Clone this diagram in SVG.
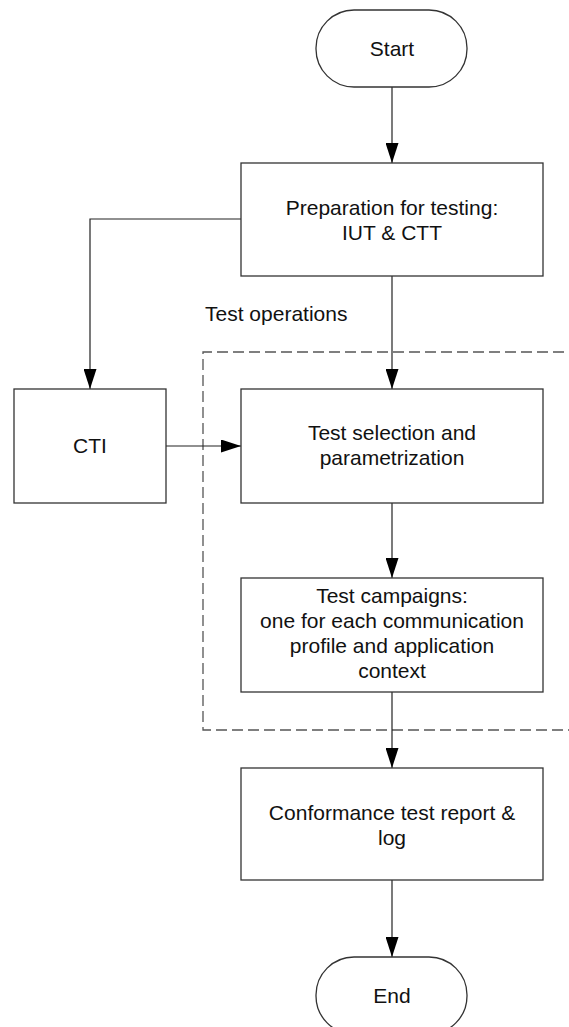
<svg xmlns="http://www.w3.org/2000/svg" width="569" height="1027" viewBox="0 0 569 1027">
<style>
.box{fill:#fff;stroke:#333;stroke-width:1.3}
.t{font-family:"Liberation Sans",Arial,sans-serif;font-size:21px;fill:#111;text-anchor:middle}
.tl{font-family:"Liberation Sans",Arial,sans-serif;font-size:21px;fill:#111}
.c{fill:none;stroke:#222;stroke-width:1.2}
.dash{fill:none;stroke:#555;stroke-width:1.3;stroke-dasharray:11,5}
</style>
<defs>
<marker id="ah" markerWidth="20" markerHeight="13" refX="20" refY="6.5" orient="auto" markerUnits="userSpaceOnUse">
<path d="M0,0 L20,6.5 L0,13 Z" fill="#000"/>
</marker>
</defs>
<rect width="569" height="1027" fill="#fff"/>
<g id="test-operations">
<path class="dash" d="M580,352 H203 V730 H580"/>
<text class="tl" x="205" y="321">Test operations</text>
</g>
<g id="connectors">
<path class="c" d="M392,87 V163" marker-end="url(#ah)"/>
<path class="c" d="M241,219 H90 V389" marker-end="url(#ah)"/>
<path class="c" d="M392,276 V389" marker-end="url(#ah)"/>
<path class="c" d="M166,446 H241" marker-end="url(#ah)"/>
<path class="c" d="M392,503 V578" marker-end="url(#ah)"/>
<path class="c" d="M392,692 V768" marker-end="url(#ah)"/>
<path class="c" d="M392,880 V957" marker-end="url(#ah)"/>
</g>
<g id="start">
<rect class="box" x="316" y="10" width="151" height="77" rx="38" ry="38"/>
<text class="t" x="392" y="56">Start</text>
</g>
<g id="preparation">
<rect class="box" x="241" y="163" width="302" height="113"/>
<text class="t" x="392" y="215">Preparation for testing:</text>
<text class="t" x="392" y="240">IUT &amp; CTT</text>
</g>
<g id="cti">
<rect class="box" x="14" y="389" width="152" height="114"/>
<text class="t" x="90" y="453">CTI</text>
</g>
<g id="selection">
<rect class="box" x="241" y="389" width="302" height="114"/>
<text class="t" x="392" y="440">Test selection and</text>
<text class="t" x="392" y="465">parametrization</text>
</g>
<g id="campaigns">
<rect class="box" x="241" y="578" width="302" height="114"/>
<text class="t" x="392" y="603">Test campaigns:</text>
<text class="t" x="392" y="628">one for each communication</text>
<text class="t" x="392" y="653">profile and application</text>
<text class="t" x="392" y="678">context</text>
</g>
<g id="report">
<rect class="box" x="241" y="768" width="302" height="112"/>
<text class="t" x="392" y="820">Conformance test report &amp;</text>
<text class="t" x="392" y="845">log</text>
</g>
<g id="end">
<rect class="box" x="316" y="957" width="151" height="77" rx="38" ry="38"/>
<text class="t" x="392" y="1003">End</text>
</g>
</svg>
